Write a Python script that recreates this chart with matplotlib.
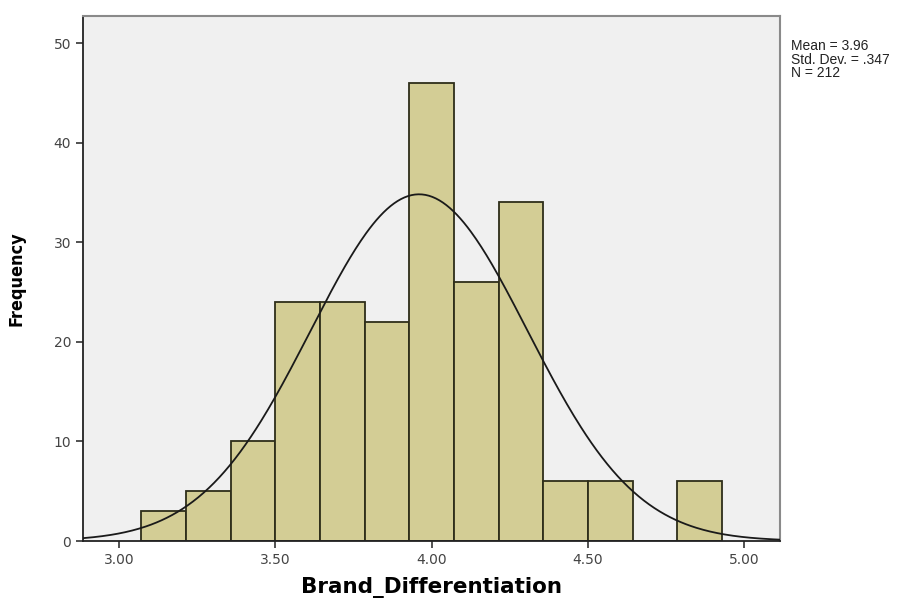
import numpy as np
from matplotlib import pyplot as plt

# histogram bins (SPSS output, width 1/7)
bin_left = [3.0714, 3.2143, 3.3571, 3.5, 3.6429, 3.7857, 3.9286,
            4.0714, 4.2143, 4.3571, 4.5, 4.6429, 4.7857]
counts = [3, 5, 10, 24, 24, 22, 46, 26, 34, 6, 6, 0, 6]
bin_width = 1 / 7

mean = 3.96
sd = 0.347
n = 212

xticks = [3.00, 3.50, 4.00, 4.50, 5.00]
yticks = [0, 10, 20, 30, 40, 50]

fig = plt.figure(figsize=(9.24, 6.02), dpi=100)
ax = fig.add_axes([0.0898, 0.1013, 0.7545, 0.8717])
ax.set_facecolor('#f0f0f0')

ax.bar(bin_left, counts, width=bin_width, align='edge',
       color='#d3cd95', edgecolor='#2e2e1a', linewidth=1.3, zorder=2)

# normal curve scaled to counts
xs = np.linspace(2.885, 5.115, 400)
ys = n * bin_width / (sd * np.sqrt(2 * np.pi)) * np.exp(-0.5 * ((xs - mean) / sd) ** 2)
ax.plot(xs, ys, color='#1a1a1a', linewidth=1.3, zorder=3)

ax.set_xlim(2.885, 5.115)
ax.set_ylim(0, 52.7)
ax.set_xticks(xticks)
ax.set_xticklabels(['%.2f' % t for t in xticks])
ax.set_yticks(yticks)
ax.tick_params(axis='both', direction='out', length=5, width=1.2,
               labelsize=10, labelcolor='#444444', color='#333333')

for side in ['left', 'bottom']:
    ax.spines[side].set_color('#222222')
    ax.spines[side].set_linewidth(1.3)
for side in ['top', 'right']:
    ax.spines[side].set_color('#8a8a8a')
    ax.spines[side].set_linewidth(1.5)

ax.set_xlabel('Brand_Differentiation', fontsize=15.5, fontweight='bold', labelpad=7)
ax.set_ylabel('Frequency', fontsize=13, fontweight='bold', fontstretch='condensed', labelpad=20)

fig.text(0.856, 0.935, 'Mean = 3.96\nStd. Dev. = .347\nN = 212',
         fontsize=10, va='top', ha='left', color='#222222', linespacing=0.95,
         family='Liberation Sans')

plt.savefig('out.png', dpi=100)
